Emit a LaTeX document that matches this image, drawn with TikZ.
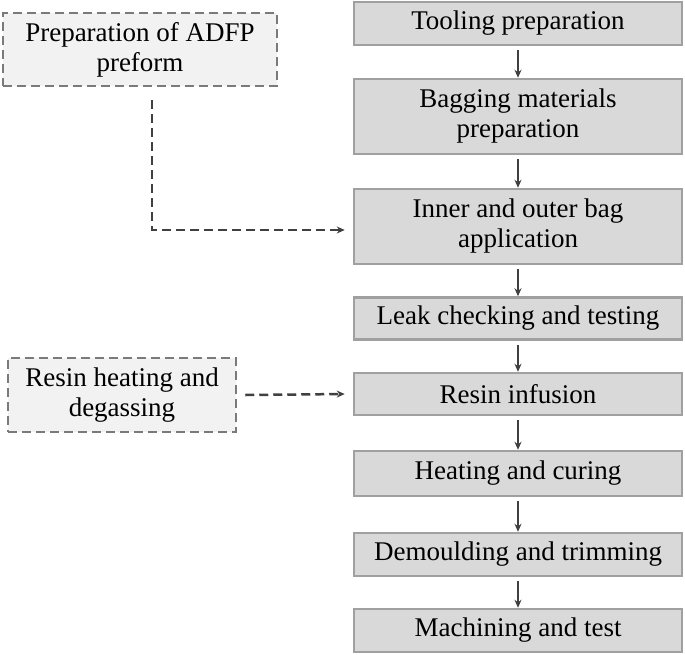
\documentclass[tikz,border=0pt]{standalone}
\usepackage{fontspec}
\setmainfont{Liberation Serif}
\usetikzlibrary{arrows.meta}

\definecolor{stepfill}{HTML}{D9D9D9}
\definecolor{stepline}{HTML}{A0A0A0}
\definecolor{prepfill}{HTML}{F2F2F2}
\definecolor{prepline}{HTML}{7A7A7A}
\definecolor{arrowgray}{HTML}{404040}

\begin{document}
\begin{tikzpicture}[x=1pt,y=-1pt,
        stepbox/.style={draw=stepline,fill=stepfill,line width=2.5pt,minimum width=328pt,
                        inner sep=0pt,align=center,font=\fontsize{27}{30}\selectfont},
        prepbox/.style={draw=prepline,fill=prepfill,line width=2.5pt,dash pattern=on 9pt off 5pt,
                        inner sep=0pt,align=center,font=\fontsize{27}{30}\selectfont},
        flow/.style={draw=arrowgray,line width=2pt,-{Stealth[length=8pt,width=7pt]}},
        dashflow/.style={draw=arrowgray,line width=2.5pt,dash pattern=on 9pt off 5pt,
                         -{Stealth[length=8pt,width=7pt]}}]
            \useasboundingbox (0,0) rectangle (685,654);

            % main process column
            \node [stepbox,minimum height=43pt] (tool)    at (518,23.5)  {Tooling preparation};
            \node [stepbox,minimum height=75pt] (bag)     at (518,116.5) {Bagging materials\\preparation};
            \node [stepbox,minimum height=75pt] (inner)   at (518,226.5) {Inner and outer bag\\application};
            \node [stepbox,minimum height=42pt] (leak)    at (518,318.5) {Leak checking and testing};
            \node [stepbox,minimum height=42pt] (infuse)  at (518,394)   {Resin infusion};
            \node [stepbox,minimum height=45pt] (cure)    at (518,473.5) {Heating and curing};
            \node [stepbox,minimum height=43pt] (demould) at (518,554.5) {Demoulding and trimming};
            \node [stepbox,minimum height=43pt] (machine) at (518,630.5) {Machining and test};

            % side preparations
            \node [prepbox,minimum width=274pt,minimum height=73pt] (preform) at (140,49.5) {Preparation of ADFP\\preform};
            \node [prepbox,minimum width=228pt,minimum height=74pt] (degas)   at (122,395)  {Resin heating and\\degassing};

            \foreach \a/\b in {tool/bag,bag/inner,inner/leak,leak/infuse,infuse/cure,cure/demould,demould/machine}
                {\draw [flow] ([yshift=-4pt]\a.south) -- (\b.north);}

            \draw [dashflow] ([xshift=12pt,yshift=-13pt]preform.south) |- ([xshift=-8pt,yshift=-3.5pt]inner.west);
            \draw [dashflow] ([xshift=8pt]degas.east) -- ([xshift=-8pt]infuse.west);
        \end{tikzpicture}
\end{document}
